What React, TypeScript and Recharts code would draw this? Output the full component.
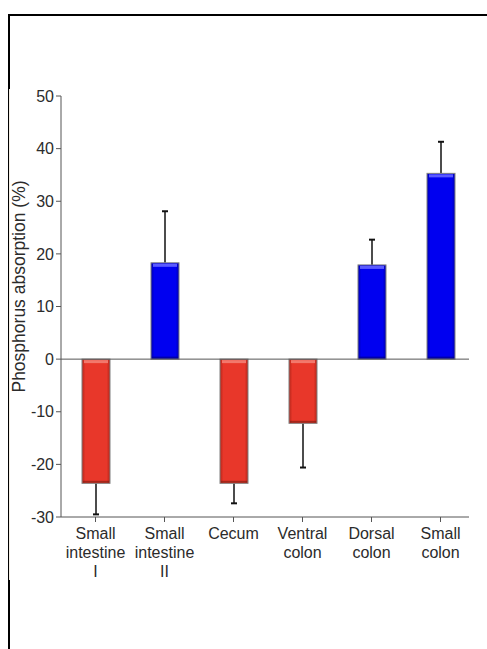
import React from 'react';
import { BarChart, Bar, XAxis, YAxis, ReferenceLine } from 'recharts';

// segment names, one line per entry of the inner list
const categories = [
  ['Small', 'intestine', 'I'],
  ['Small', 'intestine', 'II'],
  ['Cecum'],
  ['Ventral', 'colon'],
  ['Dorsal', 'colon'],
  ['Small', 'colon'],
];
const absorption = [-23.6, 18.3, -23.6, -12.2, 17.9, 35.3];
const sem = [5.9, 9.8, 3.8, 8.4, 4.8, 6.0];
const yTicks = [-30, -20, -10, 0, 10, 20, 30, 40, 50];
const xTicks = categories.map((_, i) => i);

const data = absorption.map((v, i) => ({ idx: i, value: v, sem: sem[i] }));

const FONT = '"Liberation Sans", Arial, Helvetica, sans-serif';
const TEXT = '#2b2b2b';
const AXIS = '#555555';

// bar with glossy edges plus a one-sided error whisker away from zero
const GlossyBar = (props: any) => {
  const { x, y, width, height, payload } = props;
  const top = Math.min(y, y + height);
  const h = Math.abs(height);
  const neg = payload.value < 0;
  const pxPerUnit = h / Math.abs(payload.value); // taken from the y scale via the bar itself
  const whisker = payload.sem * pxPerUnit;
  const cx = x + width / 2;
  const from = neg ? top + h : top;
  const to = neg ? from + whisker : from - whisker;
  const grad = neg ? 'url(#redGrad)' : 'url(#blueGrad)';
  const light = neg ? '#f2786c' : '#5a5aff';
  const dark = neg ? '#7a1a10' : '#00007a';
  return (
    <g>
      <line x1={cx} y1={from} x2={cx} y2={to} stroke="#111" strokeWidth={1.5} />
      <line x1={cx - 3} y1={to} x2={cx + 3} y2={to} stroke="#111" strokeWidth={2} />
      <rect x={x} y={top} width={width} height={h} fill={grad} stroke="#808080" strokeWidth={1} />
      <rect x={x + 2} y={top + 1} width={width - 4} height={3} fill={light} />
      <rect x={x + 1} y={top + h - 2.5} width={width - 2} height={2} fill={dark} opacity={0.6} />
    </g>
  );
};

const CategoryTick = (props: any) => {
  const { x, y, payload } = props;
  const lines = categories[payload.value] || [];
  return (
    <text x={x} y={y} textAnchor="middle" fill={TEXT} fontSize={16} fontFamily={FONT}>
      {lines.map((line, i) => (
        <tspan key={i} x={x} dy={i === 0 ? 15 : 19}>
          {line}
        </tspan>
      ))}
    </text>
  );
};

export default function App() {
  return (
    <div>
      {/* page frame */}
      <div
        style={{
          position: 'fixed',
          top: 14,
          left: 8,
          right: 0,
          bottom: 0,
          borderTop: '2px solid #000',
          borderLeft: '2px solid #000',
        }}
      />
      <div
        style={{
          position: 'fixed',
          top: 89,
          left: 9,
          width: 478,
          height: 491,
          background: '#fff',
          borderLeft: '1px solid #f4efe6',
          boxSizing: 'border-box',
        }}
      >
        <BarChart
          width={477}
          height={491}
          data={data}
          margin={{ top: 7, right: 18, bottom: 0, left: 0 }}
          style={{ fontFamily: FONT }}
        >
          <defs>
            <linearGradient id="redGrad" x1="0" y1="0" x2="1" y2="0">
              <stop offset="0" stopColor="#b4261a" />
              <stop offset="0.12" stopColor="#e8372a" />
              <stop offset="0.88" stopColor="#e8372a" />
              <stop offset="1" stopColor="#b4261a" />
            </linearGradient>
            <linearGradient id="blueGrad" x1="0" y1="0" x2="1" y2="0">
              <stop offset="0" stopColor="#0000b0" />
              <stop offset="0.12" stopColor="#0000f0" />
              <stop offset="0.88" stopColor="#0000f0" />
              <stop offset="1" stopColor="#0000b0" />
            </linearGradient>
          </defs>
          <XAxis
            type="number"
            dataKey="idx"
            domain={[-0.5, 5.413]}
            ticks={xTicks}
            allowDataOverflow
            interval={0}
            height={63}
            tick={<CategoryTick />}
            tickSize={5}
            tickLine={{ stroke: AXIS }}
            axisLine={{ stroke: AXIS }}
          />
          <YAxis
            domain={[-30, 50]}
            ticks={yTicks}
            width={51}
            interval={0}
            tickSize={5}
            tickLine={{ stroke: AXIS }}
            axisLine={{ stroke: AXIS }}
            tick={{ fontSize: 16, fill: TEXT, fontFamily: FONT }}
            label={{
              value: 'Phosphorus absorption (%)',
              angle: -90,
              position: 'insideLeft',
              offset: 9,
              dy: -20,
              style: { textAnchor: 'middle', fontSize: 17.5, fill: TEXT, fontFamily: FONT },
            }}
          />
          <ReferenceLine y={0} stroke={AXIS} strokeWidth={1} />
          <Bar dataKey="value" barSize={28} shape={<GlossyBar />} isAnimationActive={false} />
        </BarChart>
      </div>
    </div>
  );
}
